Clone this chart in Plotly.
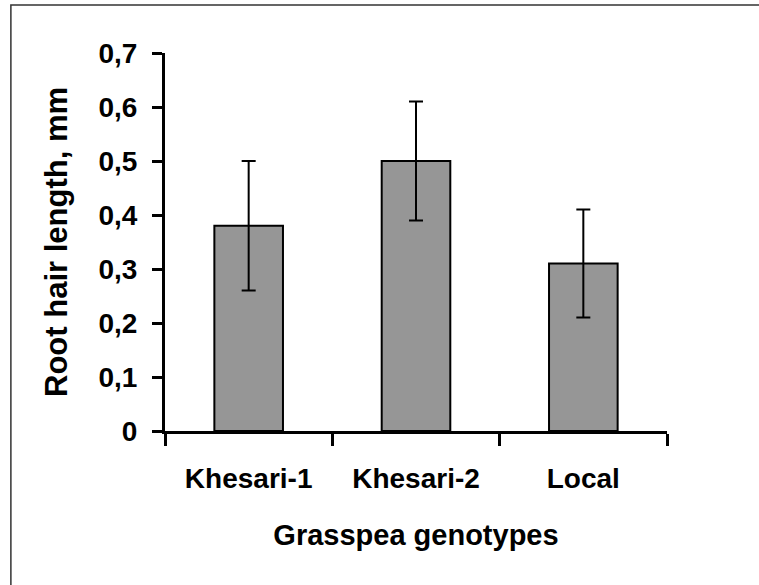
import plotly.graph_objects as go

categories = ["Khesari-1", "Khesari-2", "Local"]
root_hair_length = [0.38, 0.50, 0.31]
error_values = [0.12, 0.11, 0.10]
y_tick_values = [0, 0.1, 0.2, 0.3, 0.4, 0.5, 0.6, 0.7]
y_tick_labels = ["0", "0,1", "0,2", "0,3", "0,4", "0,5", "0,6", "0,7"]

FONT = "Liberation Sans, Arial, sans-serif"

fig = go.Figure()
fig.add_trace(go.Bar(
    x=categories,
    y=root_hair_length,
    width=0.41,
    marker=dict(color="#969696", line=dict(color="black", width=2)),
    error_y=dict(type="data", array=error_values, visible=True,
                 color="black", thickness=2, width=7),
))

fig.update_layout(
    width=759, height=585,
    margin=dict(l=165, r=92, t=53, b=154),
    plot_bgcolor="white", paper_bgcolor="white",
    showlegend=False,
    font=dict(family=FONT, color="black"),
    xaxis=dict(
        showline=True, linecolor="black", linewidth=3,
        ticks="outside", tickson="boundaries", ticklen=12, tickwidth=3, tickcolor="black",
        tickfont=dict(size=28, family=FONT, weight="bold"),
        ticklabelstandoff=20,
        title=dict(text="<b>Grasspea genotypes</b>", font=dict(size=29, family=FONT), standoff=33),
        showgrid=False, zeroline=False,
    ),
    yaxis=dict(
        range=[0, 0.7],
        tickvals=y_tick_values, ticktext=y_tick_labels,
        showline=True, linecolor="black", linewidth=3,
        ticks="outside", ticklen=10, tickwidth=3, tickcolor="black",
        tickfont=dict(size=28, family=FONT, weight="bold"),
        ticklabelstandoff=9,
        title=dict(text="<b>Root hair length, mm</b>", font=dict(size=31, family=FONT), standoff=22),
        showgrid=False, zeroline=False,
    ),
)

fig.add_shape(type="rect", xref="paper", yref="paper",
              x0=-0.307, x1=1.5, y0=-0.6, y1=1.127,
              line=dict(color="#333333", width=1.5), fillcolor="rgba(0,0,0,0)", layer="below")

fig.write_html("out.html", config={"displayModeBar": False},
               post_script="document.body.style.margin='0';document.body.style.overflow='hidden';")
